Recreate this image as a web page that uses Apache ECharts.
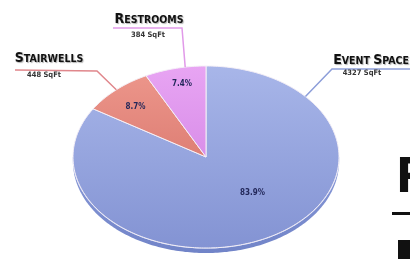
<!DOCTYPE html>
<html>
<head>
<meta charset="utf-8">
<script src="https://cdn.jsdelivr.net/npm/echarts@6/dist/echarts.min.js"></script>
<style>
  html, body { margin: 0; padding: 0; background: #fff; }
  #chart { width: 410px; height: 259px; }
</style>
</head>
<body>
<div id="chart"></div>
<script>
// space usage
const categories = ['Event Space', 'Stairwells', 'Restrooms'];
const areas = [4327, 448, 384];
const unit = 'SqFt';

// look & placement (pixels unless noted)
const sliceFills = [['#a8b6e9', '#8393d3'], ['#ec958a', '#de7f75'], ['#e8a5f3', '#d98ee9']];
const lineColors = ['#8d9ed9', '#e0878c', '#e19ae9'];
const pctSpots = [[0.35, -0.39], [-0.53, 0.55], [-0.18, 0.80]]; // data units on the unit disc
const titleSpots = [[371, 67], [49, 65], [149, 26]];
const valueSpots = [[362, 73], [44, 75], [148, 35]];
const leaderPaths = [[[410, 69], [332, 69]], [[15, 70], [97, 71]], [[113, 28], [182, 28]]];
const leaderAngles = [41.6, 132.4, 99];
const rimDepth = 5;

const total = areas.reduce((a, b) => a + b, 0);
const FONT = "'Liberation Sans Narrow', 'DejaVu Sans Condensed', sans-serif";

function sliceAngles(i) {
    let before = 0;
    for (let k = 0; k < i; k++) before += areas[k];
    const start = 90 - before / total * 360;
    return [start, start - areas[i] / total * 360];
}
function pt(api, deg, r) {
    const a = deg * Math.PI / 180;
    return api.coord([r * Math.cos(a), r * Math.sin(a)]);
}
function arcPts(api, from, to) {
    const n = Math.max(2, Math.ceil(Math.abs(to - from)));
    const pts = [];
    for (let k = 0; k <= n; k++) pts.push(pt(api, from + (to - from) * k / n, 1));
    return pts;
}
// "Event Space" -> {b|E}{s|VENT} {b|S}{s|PACE}
function smallCaps(name) {
    return name.split(' ').map(w => '{b|' + w[0].toUpperCase() + '}{s|' + w.slice(1).toUpperCase() + '}').join('{s| }');
}

const chart = echarts.init(document.getElementById('chart'), null, { renderer: 'canvas' });

chart.setOption({
    animation: false,
    grid: { left: 73, top: 66, width: 266, height: 182 },
    xAxis: { type: 'value', min: -1, max: 1, show: false },
    yAxis: { type: 'value', min: -1, max: 1, show: false },
    series: [{
        // pie thickness along the front edge
        type: 'custom',
        coordinateSystem: 'cartesian2d',
        clip: false,
        z: 1,
        data: [[0, 0]],
        renderItem: (params, api) => {
            const top = arcPts(api, 180, 360);
            const bottom = top.map(p => [p[0], p[1] + rimDepth]).reverse();
            return {
                type: 'group',
                children: [{
                    type: 'polygon',
                    shape: { points: top.concat(bottom) },
                    style: {
                        fill: new echarts.graphic.LinearGradient(0, 0, 0, 1, [
                            { offset: 0, color: '#8a9ad8' },
                            { offset: 1, color: '#7184c8' }
                        ])
                    }
                }, {
                    type: 'polyline',
                    shape: { points: top },
                    style: { stroke: '#d3daf5', lineWidth: 1.2, fill: null }
                }]
            };
        }
    }, {
        type: 'custom',
        coordinateSystem: 'cartesian2d',
        clip: false,
        z: 2,
        data: areas.map((v, i) => [0, 0, v, i]),
        renderItem: (params, api) => {
            const i = params.dataIndex;
            const [a0, a1] = sliceAngles(i);
            const pts = [api.coord([0, 0])].concat(arcPts(api, a0, a1));
            const pct = (api.value(2) / total * 100).toFixed(1) + '%';
            const pc = api.coord(pctSpots[i]);
            const leader = leaderPaths[i].concat([pt(api, leaderAngles[i], 1)]);
            return {
                type: 'group',
                children: [{
                    type: 'polygon',
                    shape: { points: pts },
                    style: {
                        fill: new echarts.graphic.LinearGradient(0, 0, 0, 1, [
                            { offset: 0, color: sliceFills[i][0] },
                            { offset: 1, color: sliceFills[i][1] }
                        ]),
                        stroke: '#f4eff6',
                        lineWidth: 1
                    }
                }, {
                    type: 'text',
                    x: pc[0], y: pc[1],
                    style: {
                        text: pct,
                        align: 'center', verticalAlign: 'middle',
                        font: 'bold 8px ' + FONT,
                        fill: '#23285a'
                    }
                }, {
                    type: 'polyline',
                    shape: { points: leader },
                    style: { stroke: lineColors[i], lineWidth: 1.5, fill: null }
                }, {
                    type: 'text',
                    x: titleSpots[i][0], y: titleSpots[i][1],
                    style: {
                        text: smallCaps(categories[i]),
                        align: 'center', verticalAlign: 'bottom',
                        fill: '#111',
                        textShadowColor: 'rgba(0,0,0,0.3)',
                        textShadowBlur: 1,
                        textShadowOffsetX: 1,
                        textShadowOffsetY: 1,
                        rich: {
                            b: { fontSize: 14, fontWeight: 'bold', fontFamily: FONT, fill: '#111', verticalAlign: 'bottom', lineHeight: 14 },
                            s: { fontSize: 10.5, fontWeight: 'bold', fontFamily: FONT, fill: '#111', verticalAlign: 'bottom', lineHeight: 14 }
                        }
                    }
                }, {
                    type: 'text',
                    x: valueSpots[i][0], y: valueSpots[i][1],
                    style: {
                        text: api.value(2) + ' ' + unit,
                        align: 'center', verticalAlign: 'middle',
                        font: 'bold 7.5px ' + FONT,
                        fill: '#333'
                    }
                }]
            };
        }
    }],
    graphic: [
        // edge of the slide's next heading, cut off by the frame
        { type: 'text', left: 396, top: 156, style: { text: 'R', font: 'bold 48px ' + FONT, fill: '#111' } },
        { type: 'rect', shape: { x: 392, y: 212, width: 18, height: 3 }, style: { fill: '#111' } },
        { type: 'rect', shape: { x: 398, y: 240, width: 12, height: 19 }, style: { fill: '#111' } }
    ]
});
</script>
</body>
</html>
